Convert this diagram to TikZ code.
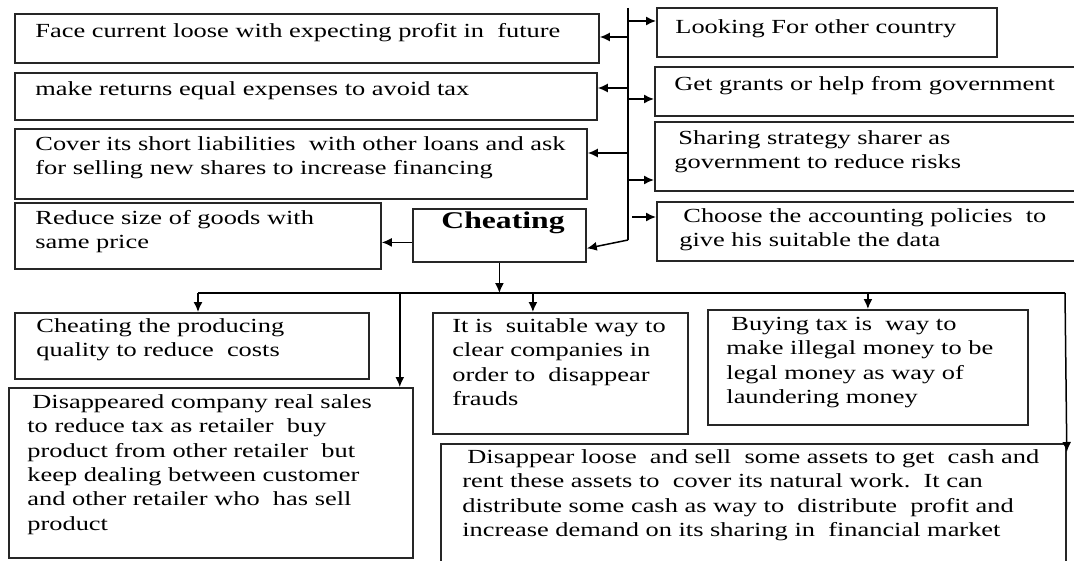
\documentclass[tikz,border=0pt]{standalone}
\usepackage{fontspec}
\setmainfont{Liberation Serif}[FakeStretch=1.32]
\usetikzlibrary{arrows.meta}
% box from its corners, in pixels of the page
\newcommand{\cellbox}[5]{%
\node[box,minimum width={(#4-#2)*0.5pt},minimum height={(#5-#3)*0.5pt}] (#1) at (#2,#3) {};}
\begin{document}
\begin{tikzpicture}[x=0.5pt,y=-0.5pt,
box/.style={draw=black!85,line width=0.9pt,inner sep=0pt,anchor=north west},
txt/.style={anchor=north west,yshift=8.54pt,align=left,inner sep=0pt,
  font=\fontsize{10}{12.2}\selectfont,execute at begin node=\strut},
link/.style={line width=0.75pt,-{Latex[length=5pt,width=4.5pt]}}]
\useasboundingbox (0,0) rectangle (1074,561);
\clip (0,0) rectangle (1074,561);
%left side
\cellbox{A}{14}{13}{598}{62}
\cellbox{B}{14}{72}{596}{119}
\cellbox{C}{14}{128}{586}{198}
\cellbox{D}{14}{202}{380}{268}
\cellbox{ch}{412}{208}{585}{261}
\node[txt] (tA) at (35,37) {Face current loose with expecting profit in\ \ future};
\node[txt] (tB) at (35,95) {make returns equal expenses to avoid tax};
\node[txt] (tC) at (35,153) {Cover its short liabilities\ \ with other loans and ask\\for selling new shares to increase financing};
\node[txt] (tD) at (35,227) {Reduce size of goods with\\same price};
\node[anchor=base west,inner sep=0pt,font=\fontsize{12}{14}\selectfont\bfseries] (tch) at (441,228) {Cheating};
%right side
\cellbox{E}{656}{7}{996}{56}
\cellbox{F}{654}{66}{1090}{115}
\cellbox{G}{654}{121}{1090}{190}
\cellbox{H}{656}{201}{1090}{260}
\node[txt] (tE) at (675,33) {Looking For other country};
\node[txt] (tF) at (674,90) {Get grants or help from government};
\node[txt] (tG) at (674,147) {\hspace*{0.2em}Sharing strategy sharer as\\government to reduce risks};
\node[txt] (tH) at (679,225) {\hspace*{0.2em}Choose the accounting policies\ \ to\\give his suitable the data};
%bottom
\cellbox{I}{14}{312}{368}{378}
\cellbox{J}{8}{387}{412}{557}
\cellbox{K}{432}{312}{687}{433}
\cellbox{L}{707}{309}{1027}{424}
\cellbox{M}{440}{443}{1065}{600}
\node[txt] (tI) at (36,335) {Cheating the producing\\quality to reduce\ \ costs};
\node[txt] (tJ) at (27,411) {\hspace*{0.25em}Disappeared company real sales\\to reduce tax as retailer\ \ buy\\product from other retailer\ \ but\\keep dealing between customer\\and other retailer who\ \ has sell\\product};
\node[txt] (tK) at (452,335) {It is\ \ suitable way to\\clear companies in\\order to\ \ disappear\\frauds};
\node[txt] (tL) at (726,334) {\hspace*{0.25em}Buying tax is\ \ way to\\make illegal money to be\\legal money as way of\\laundering money};
\node[txt] (tM) at (462,466) {\hspace*{0.25em}Disappear loose\ \ and sell\ \ some assets to get\ \ cash and\\rent these assets to\ \ cover its natural work.\ \ It can\\distribute some cash as way to\ \ distribute\ \ profit and\\increase demand on its sharing in\ \ financial market};
%trunk
\coordinate (top) at (628,8);
\coordinate (bot) at (628,240);
\draw[line width=0.75pt] (top) -- (bot);
\foreach \n/\y/\x in {E/21/628,F/99/628,G/180/628,H/217/632}{
  \coordinate (t) at (\x,\y);
  \draw[link] (t) -- (t -| \n.west);}
\foreach \n/\y in {A/37,B/88,C/153}{
  \coordinate (t) at (628,\y);
  \draw[link] (t) -- (t -| \n.east);}
\draw[link] (bot) -- ([yshift=-6.5pt]ch.east);
\draw[link] ([yshift=-3.5pt]ch.west) -- ([yshift=-3.5pt]ch.west -| D.east);
%down
\coordinate (hl) at (198,293);
\coordinate (hr) at (1065,293);
\draw[line width=0.75pt] (hl) -- (hr);
\draw[link] (ch.south) -- (ch.south |- hl);
\draw[link] (hl) -- (hl |- I.north);
\draw[link] ([xshift=-7pt]J.north east |- hl) -- ([xshift=-7pt]J.north east);
\draw[link] ([xshift=-13.75pt]K.north |- hl) -- ([xshift=-13.75pt]K.north);
\draw[link] (L.north |- hl) -- (L.north);
\draw[link] (hr) -- ([yshift=-4.5pt]M.north east);
\end{tikzpicture}
\end{document}
